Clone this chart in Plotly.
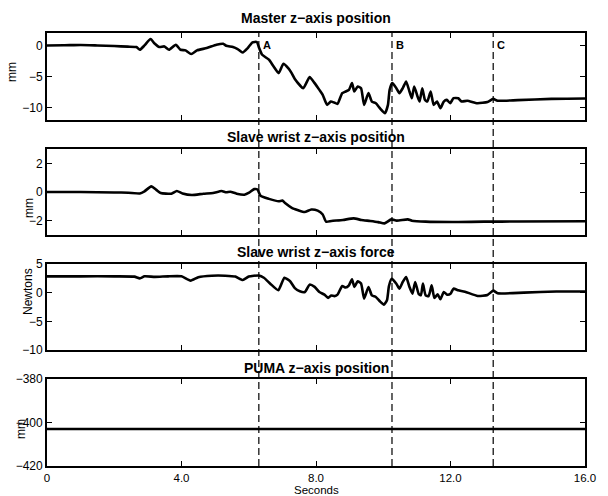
import plotly.graph_objects as go

# ---------------- data ----------------
master_t = [0, 0.5, 1.0, 1.5, 2.0, 2.4, 2.66, 2.76, 2.9, 3.08, 3.2, 3.34, 3.49, 3.63, 3.83, 3.97,
            4.12, 4.29, 4.46, 4.75, 5.04, 5.24, 5.33, 5.53, 5.67, 5.82, 5.97, 6.11, 6.24, 6.31,
            6.40, 6.6, 6.74, 6.89, 7.03, 7.18, 7.28, 7.37, 7.62, 7.81, 7.96, 8.10, 8.2, 8.33,
            8.44, 8.54, 8.64, 8.78, 8.88, 8.98, 9.07, 9.14, 9.24, 9.34, 9.43, 9.56, 9.66, 9.78,
            9.9, 10.05, 10.14, 10.19, 10.27, 10.39, 10.48, 10.58, 10.68, 10.78, 10.85, 10.92,
            11.02, 11.08, 11.16, 11.24, 11.31, 11.41, 11.5, 11.6, 11.7, 11.8, 11.89, 11.99,
            12.09, 12.23, 12.33, 12.5, 12.8, 13.1, 13.27, 13.4, 14.0, 15.0, 16.0]
master_v = [0.0, 0.02, 0.08, 0.0, -0.1, -0.2, -0.26, -0.7, 0.0, 1.03, 0.3, -0.26, -0.16, -0.7, 0.11, -0.7,
            -0.8, -1.39, -0.8, -0.42, 0.11, 0.27, -0.05, -0.26, -0.58, -1.13, -0.42, 0.48, 0.55, -0.42,
            -1.5, -2.3, -3.39, -4.45, -2.95, -3.7, -4.5, -5.4, -6.88, -5.1, -6.07, -7.15, -7.95, -9.56,
            -9.03, -9.19, -9.4, -7.68, -7.42, -7.15, -6.07, -7.42, -6.61, -6.88, -9.56, -7.68, -9.03, -9.3,
            -10.1, -10.9, -9.56, -7.15, -6.07, -6.88, -7.68, -6.88, -5.8, -7.42, -8.49, -6.61,
            -8.22, -9.03, -6.88, -8.76, -9.03, -7.42, -9.56, -9.03, -10.1, -9.03, -8.76, -9.3,
            -8.49, -8.49, -9.03, -8.9, -9.3, -9.1, -8.6, -8.9, -8.8, -8.6, -8.55]

slave_t = [0, 1.0, 2.0, 2.42, 2.76, 2.9, 3.1, 3.25, 3.38, 3.7, 3.86, 4.03, 4.31, 4.65, 4.94, 5.19,
           5.33, 5.45, 5.64, 5.87, 6.01, 6.16, 6.26, 6.35, 6.6, 6.89, 7.0, 7.07, 7.28, 7.47, 7.66,
           7.86, 8.05, 8.2, 8.3, 8.46, 8.8, 9.12, 9.35, 9.61, 9.85, 10.04, 10.24, 10.4, 10.73,
           10.85, 11.26, 12.23, 13.0, 14.0, 16.0]
slave_v = [0.0, 0.0, -0.03, -0.05, -0.1, 0.05, 0.39, 0.15, -0.07, -0.12, 0.07, -0.1, -0.21, -0.12, -0.07, 0.07,
           -0.02, 0.02, -0.12, -0.19, -0.05, 0.2, 0.17, -0.26, -0.48, -0.65, -0.6, -0.75, -1.1, -1.27, -1.4,
           -1.22, -1.3, -1.57, -2.07, -2.02, -1.95, -1.84, -1.95, -2.02, -2.1, -2.19, -1.91, -2.0, -1.91,
           -2.0, -2.07, -2.09, -2.07, -2.06, -2.04]

force_t = [0, 1.0, 2.0, 2.6, 2.76, 2.9, 3.21, 3.6, 4.0, 4.27, 4.5, 4.9, 5.3, 5.6, 5.82, 6.0, 6.3,
           6.45, 6.64, 6.88, 7.06, 7.23, 7.37, 7.52, 7.67, 7.81, 7.96, 8.1, 8.25, 8.36, 8.45, 8.55,
           8.64, 8.78, 8.88, 8.98, 9.07, 9.14, 9.24, 9.34, 9.43, 9.56, 9.66, 9.78, 9.9, 10.02,
           10.11, 10.17, 10.25, 10.39, 10.48, 10.58, 10.68, 10.78, 10.87, 10.95, 11.05, 11.12,
           11.18, 11.26, 11.35, 11.44, 11.52, 11.62, 11.7, 11.8, 11.9, 12.0, 12.09, 12.23, 12.43,
           12.81, 13.1, 13.27, 13.4, 14.18, 15.15, 16.0]
force_v = [2.85, 2.85, 2.85, 2.8, 2.5, 2.85, 2.75, 2.85, 2.85, 2.1, 2.7, 2.96, 2.96, 2.8, 2.2, 2.8, 3.0,
           2.6, 1.57, 0.42, 2.6, 2.0, 0.8, 0.24, 0.12, 1.4, 1.0, 0.12, -0.35, -0.92, -0.5, -0.6,
           -0.35, 1.17, 0.9, 1.29, 2.33, 1.0, 1.98, 1.6, -1.04, 1.0, -0.46, -0.75, -1.51, -2.09,
           -1.33, 1.17, 2.44, 1.57, 0.7, 1.87, 2.74, 1.0, -0.17, 1.87, -0.17, -0.46,
           1.57, -0.46, -0.6, 1.29, -0.92, -0.3, -1.16, 0.12, -0.35, -0.2, 0.7, 0.41, 0.17,
           -0.58, -0.4, 0.35, -0.1, 0.0, 0.2, 0.2]

puma_t = [0, 16]
puma_v = [-403, -403]

event_times = [6.3, 10.26, 13.27]
event_labels = ["A", "B", "C"]

titles = ["Master z\u2212axis position", "Slave wrist z\u2212axis position",
          "Slave wrist z\u2212axis force", "PUMA z\u2212axis position"]
ylabels = ["mm", "mm", "Newtons", "mm"]
yranges = [[-12, 2], [-3, 3], [-10, 5], [-420, -380]]
yticks = [[-10, -5, 0], [-2, 0, 2], [-10, -5, 0, 5], [-420, -400, -380]]
xtick_vals = [0, 4, 8, 12, 16]
xtick_text = ["0", "4.0", "8.0", "12.0", "16.0"]
xlabel = "Seconds"

# ---------------- layout geometry (pixels) ----------------
W, H = 608, 496
ML, MR, MT, MB = 47, 12, 33, 30
PH = H - MT - MB
panels_px = [(33, 120), (149, 235), (264, 350), (379, 466)]


def py(p):
    return 1 - (p - MT) / PH


FONT = "Liberation Sans, Arial, Helvetica, sans-serif"

fig = go.Figure()
series = [(master_t, master_v), (slave_t, slave_v), (force_t, force_v), (puma_t, puma_v)]
for i, (t, v) in enumerate(series):
    sfx = "" if i == 0 else str(i + 1)
    fig.add_trace(go.Scatter(x=t, y=v, mode="lines",
                             line=dict(color="black", width=2.6, shape="spline", smoothing=0.5),
                             xaxis="x" + sfx, yaxis="y" + sfx, showlegend=False,
                             hoverinfo="skip"))

layout = dict(width=W, height=H, margin=dict(l=ML, r=MR, t=MT, b=MB),
              paper_bgcolor="white", plot_bgcolor="white",
              font=dict(family=FONT, size=12, color="black"), showlegend=False)

axis_common = dict(showline=True, linecolor="black", linewidth=1.8, mirror="ticks",
                   ticks="inside", ticklen=5, tickwidth=1, tickcolor="black",
                   showgrid=False, zeroline=False, fixedrange=True)

for i in range(4):
    sfx = "" if i == 0 else str(i + 1)
    top, bot = panels_px[i]
    layout["xaxis" + sfx] = dict(axis_common, domain=[0, 1], range=[0, 16],
                                 anchor="y" + sfx, tickvals=xtick_vals,
                                 ticktext=xtick_text, showticklabels=(i == 3),
                                 tickfont=dict(size=11.5))
    layout["yaxis" + sfx] = dict(axis_common, domain=[py(bot), py(top)], range=yranges[i],
                                 anchor="x" + sfx, tickvals=yticks[i],
                                 tickfont=dict(size=12))

ann = []
title_off = [15, 11.7, 11.7, 10.7]
for i in range(4):
    top, bot = panels_px[i]
    ann.append(dict(text="<b>%s</b>" % titles[i], xref="paper", yref="paper",
                    x=0.5, y=py(top - title_off[i]), xanchor="center", yanchor="middle",
                    showarrow=False, font=dict(size=14, family=FONT)))

ylab_pos = [(12, 72), (29, 208), (28, 292), (21, 429)]
for i in range(4):
    xp, ypx = ylab_pos[i]
    ann.append(dict(text=ylabels[i], xref="paper", yref="paper", x=0, xshift=xp - ML,
                    y=py(ypx), xanchor="center", yanchor="middle", textangle=-90,
                    showarrow=False, font=dict(size=12, family=FONT)))

ann.append(dict(text=xlabel, xref="paper", yref="paper", x=0.5, y=py(489.5),
                xanchor="center", yanchor="middle", showarrow=False,
                font=dict(size=11.5, family=FONT)))

for t, lab in zip(event_times, event_labels):
    ann.append(dict(text="<b>%s</b>" % lab, xref="x", yref="y", x=t, y=0,
                    xanchor="left", yanchor="middle", xshift=2, showarrow=False,
                    font=dict(size=11, family=FONT)))

shapes = []
for t in event_times:
    shapes.append(dict(type="line", xref="x", yref="paper", x0=t, x1=t, y0=0, y1=1,
                       line=dict(color="black", width=1.2, dash="7px,4px"), layer="above"))

layout["annotations"] = ann
layout["shapes"] = shapes
fig.update_layout(**layout)
fig.write_html("out.html", config={"displayModeBar": False},
               post_script="document.body.style.margin='0';document.body.style.padding='0';")
